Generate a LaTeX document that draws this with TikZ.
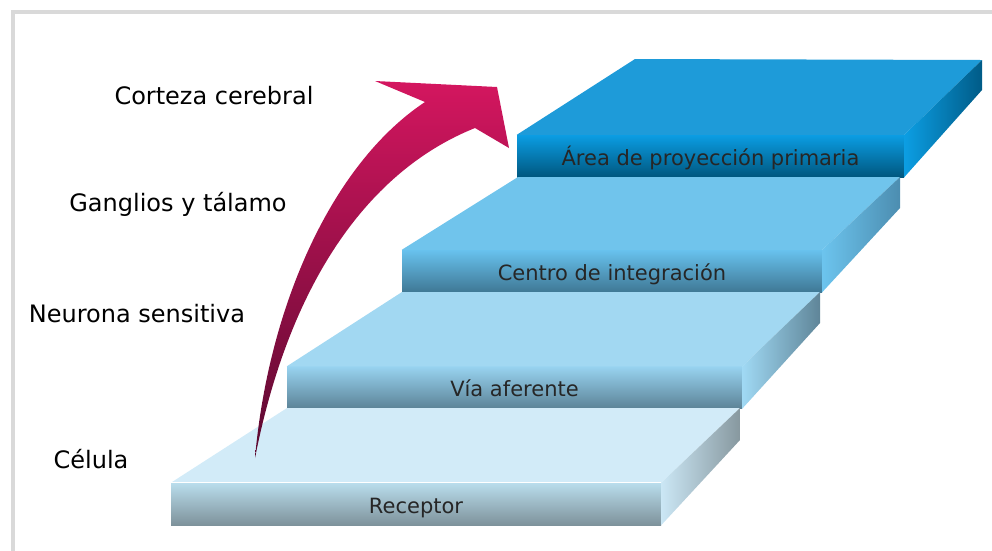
\documentclass[tikz,border=0pt]{standalone}
\usepackage{fontspec}
\setmainfont{DejaVu Sans}
\usepackage{tikz}

\definecolor{framegray}{HTML}{D9D9D9}
\definecolor{topA}{HTML}{D2EBF8}
\definecolor{topB}{HTML}{A2D8F2}
\definecolor{topC}{HTML}{70C4EC}
\definecolor{topD}{HTML}{1E9BD9}
\definecolor{arrowB}{HTML}{D4165F}
\definecolor{arrowM}{HTML}{A31252}
\definecolor{arrowD}{HTML}{5A0930}

\tikzset{
  level/.style={font=\fontsize{24}{28}\selectfont, anchor=base, inner sep=0pt},
  front/.style={minimum height=42pt, inner sep=0pt, text height=18pt, text depth=0pt,
    font=\fontsize{21}{25}\selectfont, text=black!85},
}

\begin{document}
\begin{tikzpicture}[x=1pt,y=-1pt]
	\useasboundingbox (0,0) rectangle (992,550);
	\draw[framegray, line width=4pt] (13,560) -- (13,12) -- (1000,12);

	% levels on the left
	\node[level] (cort) at (214,104) {Corteza cerebral};
	\node[level] (gang) at (178,211) {Ganglios y tálamo};
	\node[level] (neur) at (137,322) {Neurona sensitiva};
	\node[level] (cel)  at (91,468)  {Célula};

	% back corners of the steps
	\coordinate (r-bl) at (287,408); \coordinate (r-br) at (740,408); \coordinate (r-bb) at (740,440);
	\coordinate (v-bl) at (402,292); \coordinate (v-br) at (820,292); \coordinate (v-bb) at (820,323);
	\coordinate (c-bl) at (518,177); \coordinate (c-br) at (900,177); \coordinate (c-bb) at (900,208);
	\coordinate (a-bl) at (635,59);  \coordinate (a-br) at (982,60);  \coordinate (a-bb) at (982,90);

	% step 4
	\node[front, minimum width=387pt, top color={rgb,255:red,11;green,157;blue,227}, bottom color={rgb,255:red,0;green,87;blue,127}] (area) at (710.5,156) {Área de proyección primaria};
	\fill[topD] (area.north west) -- (a-bl) -- (a-br) -- (area.north east) -- cycle;
	\shade[left color={rgb,255:red,12;green,158;blue,227}, right color={rgb,255:red,0;green,91;blue,135}] (area.north east) -- (a-br) -- (a-bb) -- (area.south east) -- cycle;

	% step 3
	\node[front, minimum width=420pt, top color={rgb,255:red,104;green,194;blue,238}, bottom color={rgb,255:red,63;green,120;blue,149}] (cent) at (612,271) {Centro de integración};
	\fill[topC] (cent.north west) -- (c-bl) -- (c-br) -- (cent.north east) -- cycle;
	\shade[left color={rgb,255:red,108;green,196;blue,238}, right color={rgb,255:red,76;green,141;blue,176}] (cent.north east) -- (c-br) -- (c-bb) -- (cent.south east) -- cycle;

	% step 2
	\node[front, minimum width=455pt, top color={rgb,255:red,152;green,211;blue,240}, bottom color={rgb,255:red,92;green,131;blue,151}] (via) at (514.5,387.5) {Vía aferente};
	\fill[topB] (via.north west) -- (v-bl) -- (v-br) -- (via.north east) -- cycle;
	\shade[left color={rgb,255:red,160;green,217;blue,244}, right color={rgb,255:red,95;green,133;blue,152}] (via.north east) -- (v-br) -- (v-bb) -- (via.south east) -- cycle;

	% step 1
	\node[front, minimum width=490pt, top color={rgb,255:red,185;green,221;blue,236}, bottom color={rgb,255:red,126;green,146;blue,155}] (rec) at (416,504) {Receptor};
	\fill[topA] (rec.north west) -- (r-bl) -- (r-br) -- (rec.north east) -- cycle;
	\shade[left color={rgb,255:red,203;green,231;blue,245}, right color={rgb,255:red,135;green,152;blue,159}] (rec.north east) -- (r-br) -- (r-bb) -- (rec.south east) -- cycle;
	\draw[white, line width=1pt] (rec.north west) -- (rec.north east);

	% rising arrow
	\coordinate (tail) at (255,458);
	\shade[top color=arrowB, middle color=arrowM, bottom color=arrowD]
		(tail) .. controls (268,310) and (330,165) .. (425,102)
		-- (375,81) -- (497,87) -- (509,148) -- (475,128)
		.. controls (370,170) and (290,280) .. (tail) -- cycle;
\end{tikzpicture}
\end{document}
